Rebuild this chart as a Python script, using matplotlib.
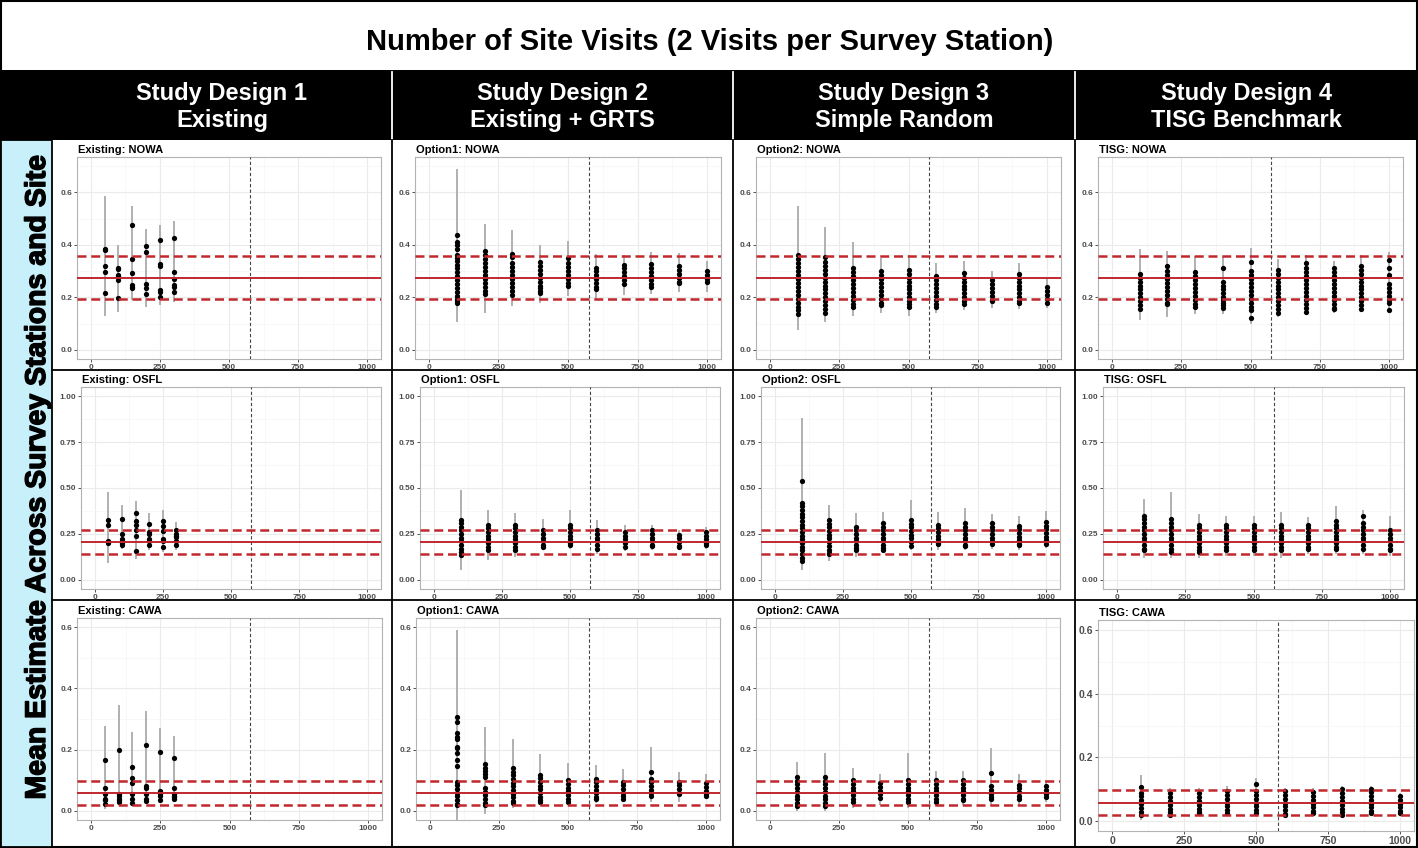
import matplotlib
matplotlib.use('Agg')
import matplotlib.pyplot as plt
import matplotlib.patheffects as pe
from matplotlib.patches import Rectangle

W, H = 1418, 848
plt.rcParams['font.family'] = ['Liberation Sans', 'DejaVu Sans']

# ---- data ----------------------------------------------------------------
x_exist = [50, 100, 150, 200, 250, 300]
x_full = [100, 200, 300, 400, 500, 600, 700, 800, 900, 1000]
x_cut = 575

nowa_ref = [0.193, 0.275, 0.357]
osfl_ref = [0.140, 0.204, 0.269]
cawa_ref = [0.019, 0.059, 0.097]

# NOWA
exist_nowa_pts = [[0.384, 0.380, 0.320, 0.298, 0.216],
                  [0.311, 0.307, 0.286, 0.280, 0.267, 0.197],
                  [0.474, 0.346, 0.292, 0.248, 0.241, 0.235],
                  [0.397, 0.371, 0.252, 0.235, 0.214],
                  [0.417, 0.328, 0.320, 0.229, 0.222, 0.200],
                  [0.425, 0.295, 0.270, 0.248, 0.241, 0.222]]
exist_nowa_lo = [0.13, 0.145, 0.19, 0.165, 0.172, 0.184]
exist_nowa_hi = [0.585, 0.40, 0.549, 0.46, 0.477, 0.492]

opt1_nowa_pts = [[0.437, 0.41, 0.40, 0.385, 0.36, 0.35, 0.34, 0.325, 0.31, 0.295, 0.28, 0.265, 0.25, 0.235, 0.22, 0.205, 0.195, 0.185, 0.18],
                 [0.378, 0.36, 0.345, 0.33, 0.315, 0.30, 0.285, 0.27, 0.255, 0.24, 0.225, 0.211],
                 [0.366, 0.355, 0.33, 0.315, 0.30, 0.285, 0.27, 0.255, 0.24, 0.225, 0.21],
                 [0.334, 0.32, 0.305, 0.29, 0.275, 0.26, 0.245, 0.235, 0.225, 0.218],
                 [0.35, 0.33, 0.315, 0.30, 0.285, 0.27, 0.255, 0.243],
                 [0.313, 0.30, 0.285, 0.27, 0.255, 0.24, 0.23],
                 [0.322, 0.31, 0.295, 0.28, 0.265, 0.25],
                 [0.329, 0.31, 0.295, 0.28, 0.265, 0.25, 0.24],
                 [0.32, 0.305, 0.29, 0.275, 0.26, 0.255],
                 [0.30, 0.285, 0.27, 0.257]]
opt1_nowa_lo = [0.106, 0.142, 0.167, 0.18, 0.205, 0.195, 0.21, 0.213, 0.22, 0.22]
opt1_nowa_hi = [0.689, 0.481, 0.456, 0.40, 0.415, 0.366, 0.36, 0.372, 0.37, 0.34]

opt2_nowa_pts = [[0.363, 0.345, 0.33, 0.315, 0.30, 0.285, 0.27, 0.255, 0.24, 0.225, 0.21, 0.195, 0.18, 0.165, 0.15, 0.135],
                 [0.352, 0.335, 0.32, 0.305, 0.29, 0.275, 0.26, 0.245, 0.23, 0.215, 0.20, 0.185, 0.17, 0.155, 0.14],
                 [0.311, 0.295, 0.28, 0.265, 0.25, 0.235, 0.22, 0.205, 0.19, 0.175, 0.165],
                 [0.30, 0.285, 0.27, 0.255, 0.24, 0.225, 0.21, 0.195, 0.18, 0.17],
                 [0.305, 0.29, 0.275, 0.26, 0.245, 0.23, 0.215, 0.20, 0.185, 0.175, 0.162],
                 [0.28, 0.265, 0.25, 0.235, 0.22, 0.205, 0.19, 0.175, 0.165],
                 [0.292, 0.275, 0.26, 0.245, 0.23, 0.215, 0.20, 0.185, 0.175],
                 [0.265, 0.25, 0.235, 0.22, 0.205, 0.19, 0.185],
                 [0.29, 0.275, 0.26, 0.245, 0.23, 0.215, 0.20, 0.185, 0.18],
                 [0.24, 0.225, 0.21, 0.195, 0.18]]
opt2_nowa_lo = [0.076, 0.106, 0.13, 0.14, 0.13, 0.14, 0.15, 0.16, 0.155, 0.16]
opt2_nowa_hi = [0.549, 0.468, 0.41, 0.35, 0.36, 0.33, 0.34, 0.30, 0.33, 0.27]

tisg_nowa_pts = [[0.29, 0.275, 0.26, 0.245, 0.23, 0.215, 0.20, 0.185, 0.17, 0.155],
                 [0.318, 0.30, 0.285, 0.27, 0.255, 0.24, 0.225, 0.21, 0.195, 0.18, 0.175],
                 [0.295, 0.28, 0.265, 0.25, 0.235, 0.22, 0.205, 0.19, 0.175, 0.165],
                 [0.313, 0.26, 0.245, 0.23, 0.215, 0.20, 0.19, 0.18, 0.17, 0.16],
                 [0.335, 0.30, 0.285, 0.27, 0.255, 0.24, 0.225, 0.21, 0.195, 0.18, 0.165, 0.15, 0.12],
                 [0.305, 0.29, 0.275, 0.26, 0.245, 0.23, 0.215, 0.20, 0.185, 0.17, 0.155, 0.14],
                 [0.33, 0.31, 0.295, 0.28, 0.265, 0.25, 0.235, 0.22, 0.205, 0.19, 0.175, 0.16, 0.145],
                 [0.31, 0.295, 0.28, 0.265, 0.25, 0.235, 0.22, 0.205, 0.19, 0.175, 0.16, 0.155],
                 [0.32, 0.305, 0.29, 0.275, 0.26, 0.245, 0.23, 0.215, 0.20, 0.185, 0.17, 0.155],
                 [0.342, 0.31, 0.285, 0.25, 0.235, 0.22, 0.205, 0.19, 0.18, 0.15]]
tisg_nowa_lo = [0.115, 0.125, 0.135, 0.135, 0.10, 0.125, 0.135, 0.14, 0.145, 0.145]
tisg_nowa_hi = [0.385, 0.378, 0.357, 0.355, 0.39, 0.345, 0.36, 0.34, 0.36, 0.372]

# OSFL
exist_osfl_pts = [[0.325, 0.296, 0.213, 0.205, 0.20],
                  [0.33, 0.25, 0.22, 0.21, 0.20, 0.19],
                  [0.365, 0.32, 0.30, 0.27, 0.24, 0.155],
                  [0.302, 0.26, 0.25, 0.22, 0.21, 0.19],
                  [0.32, 0.295, 0.265, 0.22, 0.21, 0.18],
                  [0.27, 0.25, 0.24, 0.235, 0.21, 0.19]]
exist_osfl_lo = [0.09, 0.17, 0.115, 0.16, 0.15, 0.165]
exist_osfl_hi = [0.48, 0.41, 0.43, 0.365, 0.38, 0.315]

opt1_osfl_pts = [[0.325, 0.31, 0.29, 0.27, 0.25, 0.23, 0.21, 0.19, 0.17, 0.15, 0.135],
                 [0.30, 0.28, 0.26, 0.24, 0.22, 0.20, 0.18, 0.16],
                 [0.30, 0.28, 0.26, 0.24, 0.22, 0.20, 0.18, 0.16],
                 [0.27, 0.25, 0.23, 0.21, 0.19, 0.18],
                 [0.30, 0.28, 0.26, 0.24, 0.22, 0.20, 0.19],
                 [0.27, 0.25, 0.23, 0.21, 0.19, 0.17],
                 [0.26, 0.24, 0.22, 0.20, 0.18],
                 [0.27, 0.25, 0.23, 0.21, 0.19, 0.185],
                 [0.245, 0.225, 0.205, 0.185, 0.18],
                 [0.26, 0.24, 0.22, 0.20, 0.19]]
opt1_osfl_lo = [0.055, 0.11, 0.125, 0.16, 0.17, 0.14, 0.155, 0.16, 0.17, 0.17]
opt1_osfl_hi = [0.49, 0.38, 0.365, 0.33, 0.38, 0.325, 0.30, 0.30, 0.27, 0.29]

opt2_osfl_pts = [[0.54, 0.42, 0.40, 0.38, 0.36, 0.34, 0.32, 0.30, 0.28, 0.26, 0.24, 0.22, 0.20, 0.18, 0.16, 0.14, 0.12, 0.10],
                 [0.325, 0.305, 0.285, 0.265, 0.245, 0.225, 0.205, 0.185, 0.165, 0.145, 0.14],
                 [0.29, 0.27, 0.25, 0.23, 0.21, 0.19, 0.175, 0.165],
                 [0.31, 0.29, 0.27, 0.25, 0.23, 0.21, 0.19, 0.175, 0.165],
                 [0.325, 0.305, 0.285, 0.265, 0.245, 0.225, 0.205, 0.185],
                 [0.30, 0.28, 0.26, 0.24, 0.22, 0.20, 0.195],
                 [0.31, 0.29, 0.27, 0.25, 0.23, 0.21, 0.19, 0.185],
                 [0.31, 0.29, 0.27, 0.25, 0.23, 0.21, 0.195],
                 [0.295, 0.275, 0.255, 0.235, 0.215, 0.195, 0.19],
                 [0.315, 0.295, 0.275, 0.255, 0.235, 0.215, 0.195]]
opt2_osfl_lo = [0.055, 0.10, 0.125, 0.145, 0.16, 0.165, 0.16, 0.17, 0.165, 0.175]
opt2_osfl_hi = [0.88, 0.41, 0.365, 0.37, 0.435, 0.37, 0.39, 0.36, 0.345, 0.375]

tisg_osfl_pts = [[0.35, 0.33, 0.31, 0.29, 0.27, 0.25, 0.23, 0.21, 0.19, 0.17, 0.16],
                 [0.33, 0.31, 0.29, 0.27, 0.25, 0.23, 0.21, 0.19, 0.17, 0.15],
                 [0.30, 0.28, 0.26, 0.24, 0.22, 0.20, 0.18, 0.16, 0.15],
                 [0.30, 0.28, 0.26, 0.24, 0.22, 0.20, 0.18, 0.16],
                 [0.30, 0.28, 0.26, 0.24, 0.22, 0.20, 0.18, 0.16],
                 [0.30, 0.28, 0.26, 0.24, 0.22, 0.20, 0.18, 0.16],
                 [0.30, 0.28, 0.26, 0.24, 0.22, 0.20, 0.18, 0.17],
                 [0.32, 0.30, 0.28, 0.26, 0.24, 0.22, 0.20, 0.18, 0.17],
                 [0.35, 0.31, 0.29, 0.27, 0.25, 0.23, 0.21, 0.19, 0.17],
                 [0.27, 0.25, 0.23, 0.21, 0.19, 0.17, 0.16]]
tisg_osfl_lo = [0.12, 0.12, 0.12, 0.13, 0.13, 0.12, 0.14, 0.14, 0.14, 0.13]
tisg_osfl_hi = [0.44, 0.48, 0.36, 0.35, 0.35, 0.37, 0.34, 0.40, 0.38, 0.35]

# CAWA
exist_cawa_pts = [[0.165, 0.073, 0.055, 0.040, 0.035, 0.022],
                  [0.200, 0.055, 0.048, 0.040, 0.035, 0.028],
                  [0.143, 0.107, 0.090, 0.055, 0.038, 0.025],
                  [0.215, 0.080, 0.073, 0.055, 0.040, 0.033],
                  [0.192, 0.065, 0.060, 0.055, 0.050, 0.035],
                  [0.173, 0.073, 0.055, 0.050, 0.045, 0.040]]
exist_cawa_lo = [0.005, 0.02, 0.02, 0.025, 0.025, 0.03]
exist_cawa_hi = [0.278, 0.345, 0.258, 0.326, 0.27, 0.245]

opt1_cawa_pts = [[0.307, 0.29, 0.255, 0.24, 0.235, 0.21, 0.205, 0.19, 0.165, 0.145, 0.095, 0.083, 0.071, 0.059, 0.047, 0.035, 0.023, 0.018],
                 [0.153, 0.14, 0.13, 0.12, 0.11, 0.075, 0.063, 0.051, 0.039, 0.027, 0.02],
                 [0.14, 0.128, 0.116, 0.104, 0.092, 0.08, 0.068, 0.056, 0.044, 0.032, 0.025],
                 [0.118, 0.106, 0.094, 0.082, 0.07, 0.058, 0.046, 0.034, 0.03],
                 [0.10, 0.088, 0.076, 0.064, 0.052, 0.04, 0.03],
                 [0.105, 0.093, 0.081, 0.069, 0.057, 0.045, 0.038],
                 [0.095, 0.083, 0.071, 0.059, 0.047, 0.04],
                 [0.127, 0.105, 0.093, 0.081, 0.069, 0.057, 0.05],
                 [0.095, 0.083, 0.071, 0.059, 0.055],
                 [0.09, 0.078, 0.066, 0.054, 0.05]]
opt1_cawa_lo = [-0.03, -0.01, 0.01, 0.02, 0.02, 0.025, 0.03, 0.03, 0.03, 0.04]
opt1_cawa_hi = [0.59, 0.273, 0.236, 0.185, 0.157, 0.15, 0.135, 0.21, 0.127, 0.12]

opt2_cawa_pts = [[0.11, 0.098, 0.086, 0.074, 0.062, 0.05, 0.038, 0.026, 0.015],
                 [0.11, 0.098, 0.086, 0.074, 0.062, 0.05, 0.038, 0.026, 0.015],
                 [0.10, 0.088, 0.076, 0.064, 0.052, 0.04, 0.03],
                 [0.09, 0.078, 0.066, 0.054, 0.042],
                 [0.10, 0.088, 0.076, 0.064, 0.052, 0.04, 0.03],
                 [0.10, 0.088, 0.076, 0.064, 0.052, 0.04, 0.03],
                 [0.10, 0.088, 0.076, 0.064, 0.052, 0.04, 0.035],
                 [0.125, 0.08, 0.068, 0.056, 0.044, 0.04],
                 [0.085, 0.073, 0.061, 0.049, 0.04],
                 [0.08, 0.068, 0.056, 0.045]]
opt2_cawa_lo = [0.0, 0.0, 0.01, 0.02, 0.01, 0.02, 0.02, 0.02, 0.02, 0.03]
opt2_cawa_hi = [0.16, 0.19, 0.14, 0.12, 0.19, 0.13, 0.13, 0.205, 0.12, 0.10]

tisg_cawa_pts = [[0.107, 0.09, 0.078, 0.066, 0.054, 0.042, 0.03, 0.02],
                 [0.088, 0.076, 0.064, 0.052, 0.04, 0.028, 0.02],
                 [0.088, 0.076, 0.064, 0.052, 0.04, 0.028, 0.025],
                 [0.095, 0.083, 0.071, 0.059, 0.047, 0.035, 0.025],
                 [0.118, 0.095, 0.083, 0.071, 0.059, 0.047, 0.035, 0.025],
                 [0.095, 0.083, 0.071, 0.059, 0.047, 0.035, 0.023, 0.02],
                 [0.092, 0.08, 0.068, 0.056, 0.044, 0.032, 0.025],
                 [0.10, 0.088, 0.076, 0.064, 0.052, 0.04, 0.028, 0.02],
                 [0.10, 0.092, 0.08, 0.068, 0.056, 0.044, 0.032, 0.025],
                 [0.08, 0.068, 0.056, 0.044, 0.032, 0.025]]
tisg_cawa_lo = [0.005, 0.015, 0.02, 0.02, 0.02, 0.015, 0.02, 0.015, 0.02, 0.02]
tisg_cawa_hi = [0.145, 0.105, 0.105, 0.11, 0.135, 0.105, 0.105, 0.11, 0.11, 0.09]

main_title = 'Number of Site Visits (2 Visits per Survey Station)'
col_titles = ['Study Design 1\nExisting', 'Study Design 2\nExisting + GRTS',
              'Study Design 3\nSimple Random', 'Study Design 4\nTISG Benchmark']
side_label = 'Mean Estimate Across Survey Stations and Site'


def px_rect(x0, y0, x1, y1):
    return [x0 / W, 1 - y1 / H, (x1 - x0) / W, (y1 - y0) / H]


fig = plt.figure(figsize=(W / 100, H / 100), dpi=100)
fig.patch.set_facecolor('white')
bg = fig.add_axes([0, 0, 1, 1])
bg.set_xlim(0, W)
bg.set_ylim(H, 0)
bg.axis('off')

# frame, title bar, header bar
bg.add_patch(Rectangle((1, 1), W - 2, H - 2, fc='white', ec='black', lw=1.5))
bg.add_patch(Rectangle((0, 70), W, 70, fc='black', ec='none'))
bg.text(710, 42, main_title, ha='center', va='center', fontsize=21, weight='bold')
col_edges = [52, 392, 733, 1075, 1418]
for i, t in enumerate(col_titles):
    cx = (col_edges[i] + col_edges[i + 1]) / 2
    bg.text(cx, 107, t, ha='center', va='center', fontsize=17, weight='bold',
            color='white', linespacing=1.25)
for xe in col_edges[1:4]:
    bg.plot([xe, xe], [72, 140], color='white', lw=1.3)
    bg.plot([xe, xe], [140, H], color='black', lw=1.3)
for ye in [370, 600]:
    bg.plot([52, W], [ye, ye], color='black', lw=1.3)

# side label (slight stroke to match the heavy original lettering)
side_box = Rectangle((1, 140), 51, H - 141, fc='#c8f0fb', ec='black', lw=1.3)
bg.add_patch(side_box)
st = bg.text(45, 477, side_label, rotation=90, rotation_mode='anchor', ha='center',
             va='baseline', fontsize=20.5, fontweight='bold',
             path_effects=[pe.withStroke(linewidth=1.0, foreground='black')])
st.set_clip_path(side_box)

red = '#c0282d'


def draw_panel(box, title, xs, pts, lo, hi, ref, ylim, yticks, ylabels, yminor, big=False):
    ax = fig.add_axes(px_rect(*box))
    ax.set_xlim(-50, 1050)
    ax.set_ylim(*ylim)
    ls = 7.5 if big else 6
    ax.set_xticks([0, 250, 500, 750, 1000])
    ax.set_xticklabels(['0', '250', '500', '750', '1000'], fontweight='bold')
    ax.set_xticks([125, 375, 625, 875], minor=True)
    ax.set_yticks(yticks)
    ax.set_yticklabels(ylabels, fontweight='bold')
    ax.set_yticks(yminor, minor=True)
    ax.grid(True, which='major', color='#ebebeb', lw=0.8)
    ax.grid(True, which='minor', color='#f5f5f5', lw=0.5)
    ax.set_axisbelow(True)
    ax.tick_params(which='minor', length=0)
    ax.tick_params(which='major', length=2, width=0.6, color='#333333',
                   labelsize=ls, labelcolor='#4d4d4d', pad=1.5)
    for s in ax.spines.values():
        s.set_color('#b3b3b3')
        s.set_linewidth(0.8)
    ax.vlines(xs, lo, hi, color='#b0b0b0', lw=1.4, zorder=2)
    for x, p in zip(xs, pts):
        ax.plot([x] * len(p), p, 'o', color='black', ms=3.8, mew=0, zorder=3)
    ax.axvline(x_cut, color='#444444', lw=0.8, ls=(0, (3, 2)), zorder=4)
    ax.axhline(ref[1], color=red, lw=1.4, zorder=5)
    for r in (ref[0], ref[2]):
        ax.axhline(r, color=red, lw=1.8, ls=(0, (3.6, 1.9)), zorder=5)
    bg.text(box[0] + 1, box[1] - 4, title, fontsize=8, weight='bold',
            va='baseline', ha='left')
    return ax


nowa_y = dict(ylim=(-0.035, 0.735), yticks=[0, 0.2, 0.4, 0.6],
              ylabels=['0.0', '0.2', '0.4', '0.6'], yminor=[0.1, 0.3, 0.5, 0.7])
osfl_y = dict(ylim=(-0.05, 1.05), yticks=[0, 0.25, 0.5, 0.75, 1.0],
              ylabels=['0.00', '0.25', '0.50', '0.75', '1.00'],
              yminor=[0.125, 0.375, 0.625, 0.875])
cawa_y = dict(ylim=(-0.03, 0.63), yticks=[0, 0.2, 0.4, 0.6],
              ylabels=['0.0', '0.2', '0.4', '0.6'], yminor=[0.1, 0.3, 0.5])

draw_panel((77, 157, 381, 359), 'Existing: NOWA', x_exist, exist_nowa_pts,
           exist_nowa_lo, exist_nowa_hi, nowa_ref, **nowa_y)
draw_panel((415, 157, 721, 359), 'Option1: NOWA', x_full, opt1_nowa_pts,
           opt1_nowa_lo, opt1_nowa_hi, nowa_ref, **nowa_y)
draw_panel((756, 157, 1061, 359), 'Option2: NOWA', x_full, opt2_nowa_pts,
           opt2_nowa_lo, opt2_nowa_hi, nowa_ref, **nowa_y)
draw_panel((1098, 157, 1403, 359), 'TISG: NOWA', x_full, tisg_nowa_pts,
           tisg_nowa_lo, tisg_nowa_hi, nowa_ref, **nowa_y)

draw_panel((81, 387, 381, 589), 'Existing: OSFL', x_exist, exist_osfl_pts,
           exist_osfl_lo, exist_osfl_hi, osfl_ref, **osfl_y)
draw_panel((420, 387, 720, 589), 'Option1: OSFL', x_full, opt1_osfl_pts,
           opt1_osfl_lo, opt1_osfl_hi, osfl_ref, **osfl_y)
draw_panel((761, 387, 1060, 589), 'Option2: OSFL', x_full, opt2_osfl_pts,
           opt2_osfl_lo, opt2_osfl_hi, osfl_ref, **osfl_y)
draw_panel((1103, 387, 1404, 589), 'TISG: OSFL', x_full, tisg_osfl_pts,
           tisg_osfl_lo, tisg_osfl_hi, osfl_ref, **osfl_y)

draw_panel((77, 618, 382, 820), 'Existing: CAWA', x_exist, exist_cawa_pts,
           exist_cawa_lo, exist_cawa_hi, cawa_ref, **cawa_y)
draw_panel((416, 618, 720, 820), 'Option1: CAWA', x_full, opt1_cawa_pts,
           opt1_cawa_lo, opt1_cawa_hi, cawa_ref, **cawa_y)
draw_panel((756, 618, 1060, 820), 'Option2: CAWA', x_full, opt2_cawa_pts,
           opt2_cawa_lo, opt2_cawa_hi, cawa_ref, **cawa_y)
draw_panel((1098, 620, 1414, 831), 'TISG: CAWA', x_full, tisg_cawa_pts,
           tisg_cawa_lo, tisg_cawa_hi, cawa_ref, big=True, **cawa_y)

fig.savefig('out.png', dpi=100)
